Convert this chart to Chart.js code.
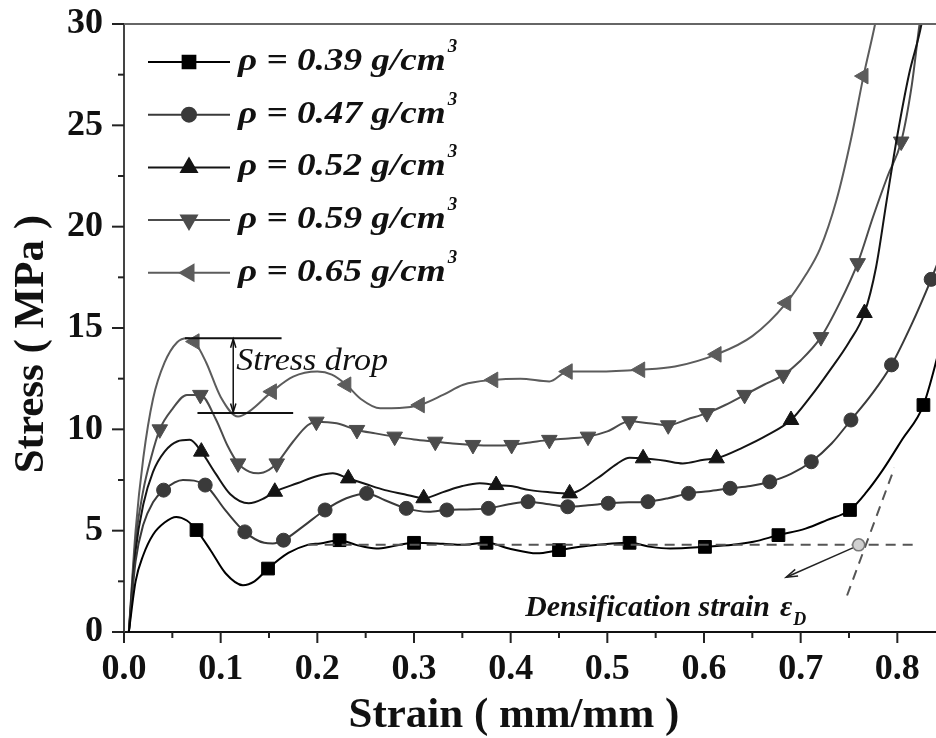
<!DOCTYPE html>
<html>
<head>
<meta charset="utf-8">
<style>
  html, body { margin: 0; padding: 0; background: #fff; }
  #wrap { width: 936px; height: 738px; }
</style>
<script src="https://cdn.jsdelivr.net/npm/chart.js@4.4.1/dist/chart.umd.min.js"></script>
</head>
<body>
<div id="wrap"><canvas id="stressChart" width="936" height="738"></canvas></div>
<script>
// curves: strain (mm/mm) and stress (MPa)
const strain039 = [0.005, 0.012, 0.02, 0.03, 0.042, 0.054, 0.065, 0.075, 0.09, 0.105, 0.123, 0.135, 0.149, 0.17, 0.19, 0.203, 0.223, 0.24, 0.261, 0.28, 0.3, 0.33, 0.35, 0.375, 0.4, 0.427, 0.45, 0.48, 0.523, 0.545, 0.565, 0.601, 0.63, 0.651, 0.677, 0.705, 0.727, 0.751, 0.768, 0.785, 0.805, 0.827, 0.845];
const stress039 = [0, 2.5, 3.8, 4.8, 5.4, 5.68, 5.5, 5.03, 4.0, 2.9, 2.31, 2.5, 3.13, 3.9, 4.3, 4.37, 4.53, 4.3, 4.12, 4.25, 4.4, 4.35, 4.3, 4.4, 4.1, 3.88, 4.04, 4.25, 4.4, 4.2, 4.12, 4.2, 4.3, 4.45, 4.78, 5.1, 5.52, 6.02, 6.9, 8.0, 9.5, 11.2, 14.2];
const marks039 = [0.075, 0.149, 0.223, 0.3, 0.375, 0.45, 0.523, 0.601, 0.677, 0.751, 0.827];

const strain047 = [0.005, 0.012, 0.02, 0.03, 0.041, 0.061, 0.084, 0.105, 0.125, 0.145, 0.154, 0.165, 0.185, 0.208, 0.23, 0.251, 0.27, 0.292, 0.315, 0.334, 0.355, 0.377, 0.398, 0.418, 0.44, 0.459, 0.48, 0.501, 0.522, 0.542, 0.563, 0.584, 0.605, 0.627, 0.648, 0.668, 0.69, 0.711, 0.732, 0.752, 0.773, 0.794, 0.815, 0.835, 0.845];
const stress047 = [0, 3.5, 5.3, 6.4, 7.0, 7.5, 7.25, 6.0, 4.94, 4.4, 4.37, 4.53, 5.2, 6.02, 6.6, 6.84, 6.5, 6.1, 5.93, 6.02, 6.05, 6.1, 6.3, 6.43, 6.3, 6.18, 6.25, 6.35, 6.4, 6.43, 6.6, 6.84, 6.95, 7.09, 7.2, 7.41, 7.8, 8.4, 9.3, 10.46, 11.7, 13.18, 15.2, 17.4, 18.6];
const marks047 = [0.041, 0.084, 0.125, 0.165, 0.208, 0.251, 0.292, 0.334, 0.377, 0.418, 0.459, 0.501, 0.542, 0.584, 0.627, 0.668, 0.711, 0.752, 0.794, 0.835];

const strain052 = [0.005, 0.012, 0.02, 0.03, 0.042, 0.055, 0.068, 0.08, 0.095, 0.11, 0.129, 0.145, 0.156, 0.18, 0.2, 0.216, 0.232, 0.25, 0.27, 0.29, 0.31, 0.33, 0.35, 0.368, 0.385, 0.4, 0.42, 0.44, 0.461, 0.49, 0.51, 0.523, 0.537, 0.56, 0.578, 0.6, 0.613, 0.64, 0.665, 0.69, 0.71, 0.73, 0.75, 0.766, 0.778, 0.789, 0.8, 0.812, 0.825, 0.83];
const stress052 = [0, 4, 6.3, 7.9, 8.9, 9.4, 9.48, 8.9, 7.8, 6.8, 6.35, 6.6, 6.92, 7.35, 7.7, 7.83, 7.58, 7.3, 7.0, 6.8, 6.6, 6.9, 7.2, 7.34, 7.25, 7.2, 7.0, 6.9, 6.84, 7.6, 8.3, 8.6, 8.57, 8.45, 8.32, 8.5, 8.57, 9.1, 9.7, 10.46, 11.6, 12.9, 14.3, 15.74, 18.0, 21.3, 24.5, 27.5, 30, 31.5];
const marks052 = [0.08, 0.156, 0.232, 0.31, 0.385, 0.461, 0.537, 0.613, 0.69, 0.766];

const strain059 = [0.005, 0.012, 0.02, 0.028, 0.037, 0.05, 0.065, 0.079, 0.095, 0.107, 0.118, 0.13, 0.139, 0.15, 0.158, 0.175, 0.19, 0.199, 0.22, 0.241, 0.26, 0.28, 0.3, 0.322, 0.34, 0.361, 0.38, 0.401, 0.42, 0.44, 0.46, 0.48, 0.5, 0.523, 0.543, 0.563, 0.583, 0.603, 0.622, 0.642, 0.662, 0.682, 0.7, 0.721, 0.74, 0.759, 0.775, 0.79, 0.804, 0.815, 0.823, 0.828];
const stress059 = [0, 4.5, 7, 8.6, 10.0, 11.0, 11.7, 11.7, 10.5, 9.2, 8.32, 7.9, 7.83, 8.0, 8.32, 9.4, 10.2, 10.38, 10.3, 9.97, 9.8, 9.64, 9.5, 9.39, 9.3, 9.23, 9.2, 9.23, 9.35, 9.48, 9.55, 9.64, 9.9, 10.4, 10.3, 10.2, 10.5, 10.8, 11.2, 11.7, 12.2, 12.69, 13.4, 14.55, 16.2, 18.2, 20.5, 22.5, 24.2, 27, 30, 31.5];
const marks059 = [0.037, 0.079, 0.118, 0.158, 0.199, 0.241, 0.28, 0.322, 0.361, 0.401, 0.44, 0.48, 0.523, 0.563, 0.603, 0.642, 0.682, 0.721, 0.759, 0.804];

const strain065 = [0.005, 0.012, 0.02, 0.03, 0.042, 0.055, 0.065, 0.073, 0.085, 0.1, 0.118, 0.13, 0.153, 0.175, 0.2, 0.215, 0.23, 0.245, 0.265, 0.285, 0.306, 0.33, 0.351, 0.382, 0.41, 0.44, 0.459, 0.49, 0.534, 0.57, 0.613, 0.65, 0.685, 0.705, 0.72, 0.737, 0.752, 0.765, 0.777, 0.785];
const stress065 = [0, 5, 8.6, 11.5, 13.3, 14.3, 14.5, 14.33, 13.3, 11.6, 10.63, 10.9, 11.86, 12.6, 12.85, 12.7, 12.2, 11.5, 11.04, 11.05, 11.2, 11.7, 12.2, 12.44, 12.5, 12.36, 12.85, 12.85, 12.94, 13.1, 13.7, 14.6, 16.23, 17.6, 18.9, 21.3, 24.3, 27.43, 30, 32];
const marks065 = [0.073, 0.153, 0.23, 0.306, 0.382, 0.459, 0.534, 0.613, 0.685, 0.765];

const densities = ['0.39', '0.47', '0.52', '0.59', '0.65'];
const xTicks = [0, 0.1, 0.2, 0.3, 0.4, 0.5, 0.6, 0.7, 0.8];
const yTicks = [0, 5, 10, 15, 20, 25, 30];

const lineColors     = ['#000000', '#3a3a3a', '#141414', '#4c4c4c', '#5c5c5c'];
const pointStyles    = ['rect', 'circle', 'triangle', 'triangle', 'triangle'];
const pointRotations = [0, 0, 0, 180, 270];
const pointSizes     = [9, 7, 9, 9, 9];

const series = [
  { x: strain039, y: stress039, marks: marks039 },
  { x: strain047, y: stress047, marks: marks047 },
  { x: strain052, y: stress052, marks: marks052 },
  { x: strain059, y: stress059, marks: marks059 },
  { x: strain065, y: stress065, marks: marks065 }
];

const SERIF = "'Liberation Serif', 'Times New Roman', serif";
const near = (a, b) => Math.abs(a - b) < 1e-6;
const PAD = '\u00a0\u00a0\u00a0';   // the printed axis titles sit a little off-centre

const datasets = series.map((s, i) => ({
  label: 'ρ = ' + densities[i] + ' g/cm³',
  data: s.x.map((v, j) => ({ x: v, y: s.y[j] })),
  borderColor: lineColors[i],
  backgroundColor: lineColors[i],
  borderWidth: 2,
  cubicInterpolationMode: 'monotone',
  pointStyle: pointStyles[i],
  rotation: pointRotations[i],
  pointRadius: ctx => s.marks.some(m => near(m, s.x[ctx.dataIndex])) ? pointSizes[i] : 0,
  pointBorderWidth: 1,
  pointHoverRadius: 0
}));

// major / minor tick marks drawn outward, plus top frame line
const axisTicks = {
  id: 'axisTicks',
  afterDraw(chart) {
    const { ctx, chartArea: a, scales: { x, y } } = chart;
    ctx.save();
    ctx.strokeStyle = '#222';
    ctx.lineWidth = 2;
    x.ticks.forEach(t => {
      const px = x.getPixelForValue(t.value);
      const major = xTicks.some(v => near(v, t.value));
      ctx.beginPath();
      ctx.moveTo(px, a.bottom);
      ctx.lineTo(px, a.bottom + (major ? 11 : 6));
      ctx.stroke();
    });
    y.ticks.forEach(t => {
      const py = y.getPixelForValue(t.value);
      const major = yTicks.some(v => near(v, t.value));
      ctx.beginPath();
      ctx.moveTo(a.left, py);
      ctx.lineTo(a.left - (major ? 12 : 6), py);
      ctx.stroke();
    });
    ctx.strokeStyle = '#666';
    ctx.beginPath();
    ctx.moveTo(a.left, a.top);
    ctx.lineTo(a.right, a.top);
    ctx.stroke();
    ctx.restore();
  }
};

function arrowHead(ctx, x0, y0, x1, y1, len, spread) {
  const ang = Math.atan2(y1 - y0, x1 - x0);
  ctx.beginPath();
  ctx.moveTo(x1 - len * Math.cos(ang - spread), y1 - len * Math.sin(ang - spread));
  ctx.lineTo(x1, y1);
  ctx.lineTo(x1 - len * Math.cos(ang + spread), y1 - len * Math.sin(ang + spread));
  ctx.stroke();
}

// text stretched sideways like the scanned figure
function wideText(ctx, txt, x, y, sx) {
  ctx.save();
  ctx.translate(x, y);
  ctx.scale(sx, 1);
  ctx.fillText(txt, 0, 0);
  ctx.restore();
  return ctx.measureText(txt).width * sx;
}

// stress drop marker and densification strain construction
const annotate = {
  id: 'annotate',
  afterDatasetsDraw(chart) {
    const { ctx, scales: { x, y } } = chart;
    const px = v => x.getPixelForValue(v);
    const py = v => y.getPixelForValue(v);
    ctx.save();

    // stress drop
    ctx.strokeStyle = '#111';
    ctx.lineWidth = 2;
    ctx.beginPath();
    ctx.moveTo(px(0.063), py(14.5)); ctx.lineTo(px(0.163), py(14.5));
    ctx.moveTo(px(0.076), py(10.8)); ctx.lineTo(px(0.175), py(10.8));
    ctx.stroke();
    ctx.lineWidth = 1.5;
    const ax = px(0.113), ay0 = py(14.45), ay1 = py(10.85);
    ctx.beginPath(); ctx.moveTo(ax, ay0); ctx.lineTo(ax, ay1); ctx.stroke();
    arrowHead(ctx, ax, ay1, ax, ay0, 9, 0.3);
    arrowHead(ctx, ax, ay0, ax, ay1, 9, 0.3);
    ctx.fillStyle = '#111';
    ctx.font = 'italic 31px ' + SERIF;
    ctx.textBaseline = 'alphabetic';
    wideText(ctx, 'Stress drop', px(0.116), py(12.94), 1.1);

    // plateau level and tangent
    ctx.strokeStyle = '#555';
    ctx.lineWidth = 2;
    ctx.setLineDash([10, 7]);
    ctx.beginPath();
    ctx.moveTo(px(0.19), py(4.3)); ctx.lineTo(px(0.82), py(4.3));
    ctx.moveTo(px(0.748), py(1.8)); ctx.lineTo(px(0.797), py(8.1));
    ctx.stroke();
    ctx.setLineDash([]);
    ctx.fillStyle = '#d0d0d0';
    ctx.strokeStyle = '#777';
    ctx.lineWidth = 1.5;
    ctx.beginPath();
    ctx.arc(px(0.76), py(4.3), 6, 0, Math.PI * 2);
    ctx.fill(); ctx.stroke();

    // arrow to label
    ctx.strokeStyle = '#222';
    ctx.lineWidth = 1.5;
    const bx0 = px(0.754), by0 = py(4.15), bx1 = px(0.685), by1 = py(2.7);
    ctx.beginPath(); ctx.moveTo(bx0, by0); ctx.lineTo(bx1, by1); ctx.stroke();
    arrowHead(ctx, bx0, by0, bx1, by1, 12, 0.3);

    ctx.fillStyle = '#111';
    ctx.font = 'bold italic 29px ' + SERIF;
    const lx = px(0.415), ly = py(0.8);
    const w = wideText(ctx, 'Densification strain', lx, ly, 1.03);
    const we = wideText(ctx, 'ε', lx + w + 10, ly, 1.03);
    ctx.font = 'bold italic 18px ' + SERIF;
    ctx.fillText('D', lx + w + 10 + we + 1, ly + 9);
    ctx.restore();
  }
};

// legend: line with marker, then label with superscript
const lineLegend = {
  id: 'lineLegend',
  afterDraw(chart) {
    const { ctx } = chart;
    ctx.save();
    densities.forEach((d, i) => {
      const cy = 62 + i * 52.7;
      ctx.strokeStyle = lineColors[i];
      ctx.lineWidth = 2;
      ctx.beginPath();
      ctx.moveTo(148, cy);
      ctx.lineTo(230, cy);
      ctx.stroke();
      ctx.fillStyle = lineColors[i];
      Chart.helpers.drawPoint(ctx, {
        pointStyle: pointStyles[i],
        radius: pointSizes[i],
        rotation: pointRotations[i],
        borderWidth: 1
      }, 189, cy);
      ctx.fillStyle = '#111';
      ctx.textBaseline = 'middle';
      ctx.font = 'bold italic 31px ' + SERIF;
      const w = wideText(ctx, 'ρ = ' + d + ' g/cm', 238, cy, 1.2);
      ctx.font = 'bold italic 19px ' + SERIF;
      ctx.fillText('3', 238 + w + 2, cy - 15);
    });
    ctx.restore();
  }
};

new Chart(document.getElementById('stressChart'), {
  type: 'line',
  data: { datasets },
  options: {
    responsive: false,
    animation: false,
    events: [],
    layout: { padding: { top: 24, right: 0, bottom: 0, left: 0 } },
    plugins: { legend: { display: false }, tooltip: { enabled: false } },
    scales: {
      x: {
        type: 'linear',
        min: 0,
        max: 0.84,
        afterFit: scale => {
          scale.height = 106;
          scale.paddingLeft = 0;
          scale.paddingRight = 0;
        },
        grid: { display: false, drawTicks: false },
        border: { display: true, color: '#111', width: 2 },
        ticks: {
          stepSize: 0.05,
          includeBounds: false,
          padding: 16,
          maxRotation: 0,
          autoSkip: false,
          color: '#111',
          font: { family: SERIF, size: 36, weight: 'bold' },
          callback: v => xTicks.some(t => near(t, v)) ? v.toFixed(1) : ''
        },
        title: {
          display: true,
          text: 'Strain ( mm/mm )' + PAD,
          color: '#111',
          font: { family: SERIF, size: 43, weight: 'bold', lineHeight: 1 },
          padding: { top: 0, bottom: 1 }
        }
      },
      y: {
        min: 0,
        max: 30,
        afterFit: scale => {
          scale.width = 124;
          scale.paddingTop = 0;
          scale.paddingBottom = 0;
        },
        grid: { display: false, drawTicks: false },
        border: { display: true, color: '#444', width: 2 },
        ticks: {
          stepSize: 2.5,
          padding: 21,
          autoSkip: false,
          color: '#111',
          font: { family: SERIF, size: 36, weight: 'bold' },
          callback: v => yTicks.some(t => near(t, v)) ? String(v) : ''
        },
        title: {
          display: true,
          text: 'Stress ( MPa )' + PAD,
          color: '#111',
          font: { family: SERIF, size: 43, weight: 'bold', lineHeight: 1.2 },
          padding: { top: 6, bottom: 0 }
        }
      }
    }
  },
  plugins: [axisTicks, annotate, lineLegend]
});
</script>
</body>
</html>
